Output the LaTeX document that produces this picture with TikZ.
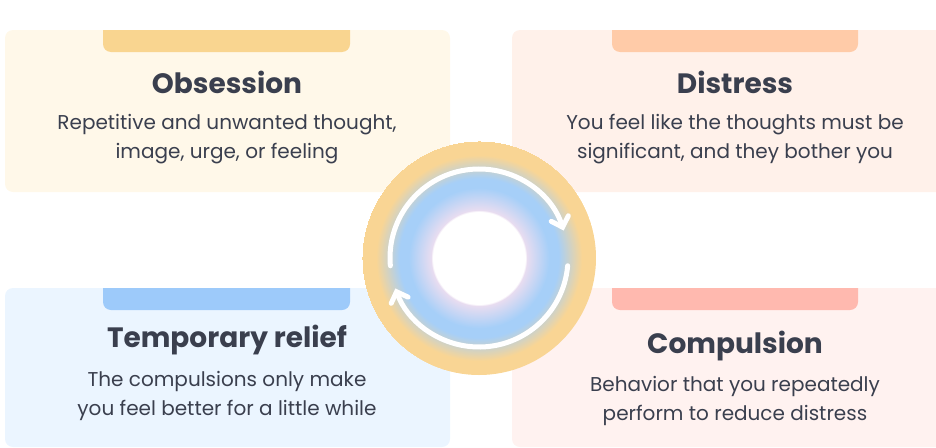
\documentclass[tikz,border=0pt]{standalone}
\usepackage{fontspec}
\setmainfont{Poppins}
\usetikzlibrary{arrows.meta}
\definecolor{ink}{HTML}{3A3F4E}
\definecolor{obsfill}{HTML}{FFF8E9}\definecolor{obstab}{HTML}{F9D590}
\definecolor{disfill}{HTML}{FFF1EA}\definecolor{distab}{HTML}{FFCBA8}
\definecolor{relfill}{HTML}{EBF5FF}\definecolor{reltab}{HTML}{9DCAFA}
\definecolor{comfill}{HTML}{FFF2F0}\definecolor{comtab}{HTML}{FFB9AF}
\definecolor{ringblue}{HTML}{A6CFF8}\definecolor{ringorange}{HTML}{F9D594}
\definecolor{ringpink}{HTML}{EADDF0}
\pgfdeclareradialshading{ring}{\pgfpoint{0bp}{0bp}}{color(0bp)=(white); color(10bp)=(white); color(10.1bp)=(ringpink); color(15bp)=(ringblue); color(17bp)=(ringblue); color(22bp)=(ringorange); color(25bp)=(ringorange)}
\begin{document}
\begin{tikzpicture}[x=1pt,y=-1pt,
  card/.style={rounded corners=8pt},
  title/.style={font=\bfseries\fontsize{28}{32}\selectfont,text=ink},
  body/.style={font=\fontsize{20}{28.5}\selectfont,text=ink,align=center},
  turn/.style={white,line width=5pt,line cap=round,-{Straight Barb[length=9pt,width=18pt,line cap=round]}}]
\useasboundingbox (0,0) rectangle (936,447);
% cards
\fill[card,obsfill] (5,30) rectangle (450,192);
\fill[card,disfill] (512,30) rectangle (946,192);
\fill[card,relfill] (5,288) rectangle (450,447);
\fill[card,comfill] (512,288) rectangle (946,447);
% tabs
\fill[card,obstab] (103,22) rectangle (350,52);
\fill[card,distab] (612,22) rectangle (858,52);
\fill[card,reltab] (103,280) rectangle (350,310);
\fill[card,comtab] (612,280) rectangle (858,310);
\fill[white] (0,0) rectangle (936,30);
\fill[white] (0,240) rectangle (936,288);
% texts
\node[title] (obs) at (227,82) {Obsession};
\node[body] (obsbody) at (227,139) {Repetitive and unwanted thought,\\image, urge, or feeling};
\node[title] (dis) at (735,82) {Distress};
\node[body] (disbody) at (735,139) {You feel like the thoughts must be\\significant, and they bother you};
\node[title] (rel) at (227,340) {Temporary relief};
\node[body] (relbody) at (227,396) {The compulsions only make\\you feel better for a little while};
\node[title] (com) at (735,346) {Compulsion};
\node[body] (combody) at (735,401) {Behavior that you repeatedly\\perform to reduce distress};
% cycle
\shade[shading=ring] (479,258) circle (117);
\draw[turn] (479,258) ++(175:89) arc (175:342:89);
\draw[turn] (479,258) ++(5:89) arc (5:160:89);
\end{tikzpicture}
\end{document}
